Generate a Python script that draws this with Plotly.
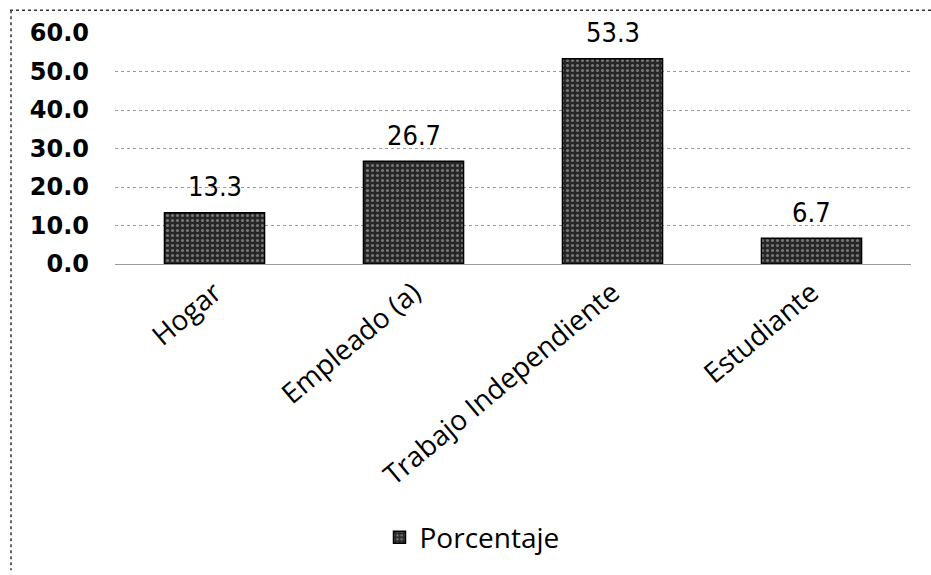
import plotly.graph_objects as go

categories = ["Hogar", "Empleado (a)", "Trabajo Independiente", "Estudiante"]
values = [13.3, 26.7, 53.3, 6.7]
value_labels = ["13.3", "26.7", "53.3", "6.7"]
y_ticks = [0, 10, 20, 30, 40, 50, 60]
y_tick_labels = ["0.0", "10.0", "20.0", "30.0", "40.0", "50.0", "60.0"]
series_name = "Porcentaje"

fig = go.Figure()
fig.add_trace(go.Bar(
    x=categories,
    y=values,
    name=series_name,
    showlegend=True,
    marker=dict(
        color="#262626",
        line=dict(color="black", width=1.5),
        pattern=dict(shape=".", fgcolor="#c8c8c8", size=5, solidity=0.3, fillmode="overlay"),
    ),
))

annotations = []
for c, v, t in zip(categories, values, value_labels):
    annotations.append(dict(
        x=c, y=v, xref="x", yref="y", text=t, showarrow=False,
        yanchor="middle", yshift=26,
        font=dict(family="DejaVu Sans Condensed, DejaVu Sans", size=27, color="black"),
    ))

W, H = 931, 575
ml, mr, mt, mb = 115, 20, 33, 309
pw = W - ml - mr
ph = H - mt - mb

def px_x(p):
    return (p - ml) / pw

def px_y(p):
    return (H - mb - p) / ph

shapes = [
    dict(type="line", xref="paper", yref="paper",
         x0=px_x(10), x1=px_x(931), y0=px_y(10), y1=px_y(10),
         line=dict(color="#333", width=1.5, dash="dot")),
    dict(type="line", xref="paper", yref="paper",
         x0=px_x(11), x1=px_x(11), y0=px_y(10), y1=px_y(575),
         line=dict(color="#333", width=1.5, dash="dot")),
]

fig.update_layout(
    width=W, height=H,
    margin=dict(l=ml, r=mr, t=mt, b=mb, pad=0),
    paper_bgcolor="white", plot_bgcolor="white",
    bargap=0.497,
    annotations=annotations,
    shapes=shapes,
    legend=dict(
        orientation="h", x=px_x(472), xanchor="center",
        y=px_y(542), yanchor="middle",
        font=dict(family="Open Sans", size=28, color="black"),
        itemwidth=30,
    ),
    xaxis=dict(
        tickangle=-40,
        tickfont=dict(family="Open Sans", size=28, color="black"),
        showline=False, showgrid=False, ticks="",
        ticklabelstandoff=6,
    ),
    yaxis=dict(
        range=[0, 60],
        tickvals=y_ticks, ticktext=y_tick_labels,
        tickfont=dict(family="DejaVu Sans", size=24, color="black", weight="bold"),
        showgrid=True, gridcolor="#9a9a9a", griddash="dot", gridwidth=1,
        zeroline=True, zerolinecolor="#9a9a9a", zerolinewidth=1,
        showline=False, ticks="",
        ticklabelstandoff=25,
    ),
)

fig.write_html("out.html")
